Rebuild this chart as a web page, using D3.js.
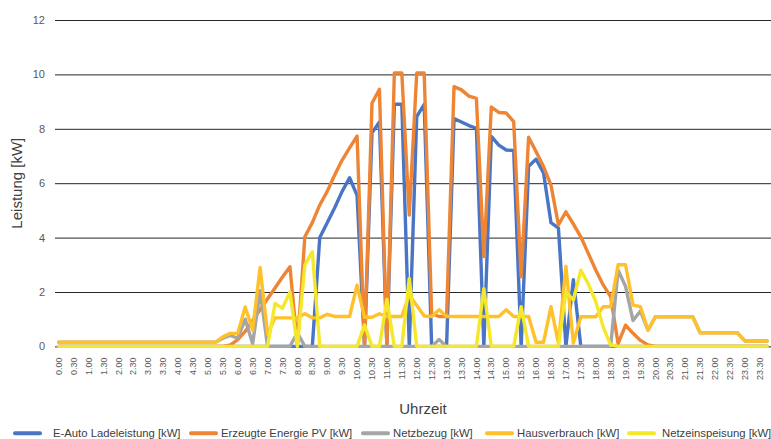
<!DOCTYPE html>
<html><head><meta charset="utf-8">
<script src="https://cdn.jsdelivr.net/npm/d3@7"></script>
<style>html,body{margin:0;padding:0;background:#fff;} svg{display:block;font-family:"Liberation Sans",Arial,Helvetica,sans-serif;}</style>
</head><body><svg id="c" width="771" height="439"></svg>
<script>
const categories = ["0.00","0.15","0.30","0.45","1.00","1.15","1.30","1.45","2.00","2.15","2.30","2.45","3.00","3.15","3.30","3.45","4.00","4.15","4.30","4.45","5.00","5.15","5.30","5.45","6.00","6.15","6.30","6.45","7.00","7.15","7.30","7.45","8.00","8.15","8.30","8.45","9.00","9.15","9.30","9.45","10.00","10.15","10.30","10.45","11.00","11.15","11.30","11.45","12.00","12.15","12.30","12.45","13.00","13.15","13.30","13.45","14.00","14.15","14.30","14.45","15.00","15.15","15.30","15.45","16.00","16.15","16.30","16.45","17.00","17.15","17.30","17.45","18.00","18.15","18.30","18.45","19.00","19.15","19.30","19.45","20.00","20.15","20.30","20.45","21.00","21.15","21.30","21.45","22.00","22.15","22.30","22.45","23.00","23.15","23.30","23.45"];
const tickLabels = ["0.00","0.30","1.00","1.30","2.00","2.30","3.00","3.30","4.00","4.30","5.00","5.30","6.00","6.30","7.00","7.30","8.00","8.30","9.00","9.30","10.00","10.30","11.00","11.30","12.00","12.30","13.00","13.30","14.00","14.30","15.00","15.30","16.00","16.30","17.00","17.30","18.00","18.30","19.00","19.30","20.00","20.30","21.00","21.30","22.00","22.30","23.00","23.30"];
const yTicks = [0,2,4,6,8,10,12];
const seriesNames = ["E-Auto Ladeleistung [kW]","Erzeugte Energie PV [kW]","Netzbezug [kW]","Hausverbrauch [kW]","Netzeinspeisung [kW]"];

// 96 quarter-hour values each
const eAuto = [
0,0,0,0,0,0,0,0,0,0,0,0,0,0,0,0,0,0,0,0,
0,0,0,0,0,0,0,0,0,0,0,0,0,0,0,4.0,4.55,5.1,5.7,6.2,
5.55,0,7.85,8.25,0,8.9,8.9,0,8.45,8.9,0,0,0,8.38,8.25,8.12,8.02,0,7.72,7.4,
7.22,7.2,0,6.62,6.88,6.38,4.55,4.35,0,2.45,0,0,0,0,0,0,0,0,0,0,
0,0,0,0,0,0,0,0,0,0,0,0,0,0,0,0];
const pv = [
0,0,0,0,0,0,0,0,0,0,0,0,0,0,0,0,0,0,0,0,
0,0,0,0.05,0.25,0.55,0.95,1.35,1.75,2.15,2.55,2.93,0,4.03,4.55,5.2,5.7,6.3,6.85,7.3,
7.73,0,8.94,9.45,0,10.05,10.05,4.83,10.05,10.05,1.2,1.1,1.1,9.55,9.43,9.2,9.12,3.3,8.8,8.6,
8.58,8.26,2.56,7.69,7.16,6.61,5.93,4.47,4.95,4.5,4.03,3.42,2.81,2.26,1.83,0.1,0.78,0.48,0.22,0.05,
0,0,0,0,0,0,0,0,0,0,0,0,0,0,0,0];
const netzbezug = [
0.15,0.15,0.15,0.15,0.15,0.15,0.15,0.15,0.15,0.15,0.15,0.15,0.15,0.15,0.15,0.15,0.15,0.15,0.15,0.15,
0.15,0.15,0.3,0.4,0.3,1.0,0.1,2.05,0,0,0,0,0.5,0,0,0,0,0,0,0,
0,0,0,0,0,0,0,0,0,0,0,0.25,0,0,0,0,0,0,0,0,
0,0,0,0,0,0,0,0,0,0,0,0,0,0,0,2.8,2.2,0.95,1.3,0.6,
1.09,1.09,1.09,1.09,1.09,1.09,0.5,0.5,0.5,0.5,0.5,0.5,0.2,0.2,0.2,0.2];
const hausverbrauch = [
0.15,0.15,0.15,0.15,0.15,0.15,0.15,0.15,0.15,0.15,0.15,0.15,0.15,0.15,0.15,0.15,0.15,0.15,0.15,0.15,
0.15,0.15,0.35,0.48,0.48,1.45,0.6,2.9,0.45,1.05,1.05,1.05,1.05,1.2,1.05,1.05,1.18,1.1,1.1,1.1,
2.25,1.07,1.07,1.2,1.1,1.1,1.1,1.9,1.5,1.12,1.1,1.35,1.1,1.1,1.1,1.1,1.1,1.1,1.1,1.1,
1.35,1.1,1.1,1.1,0.15,0.15,1.46,0.12,2.95,0.12,1.09,1.09,1.09,1.46,1.46,3.0,3.0,1.52,1.46,0.6,
1.09,1.09,1.09,1.09,1.09,1.09,0.5,0.5,0.5,0.5,0.5,0.5,0.2,0.2,0.2,0.2];
const netzeinspeisung = [
0,0,0,0,0,0,0,0,0,0,0,0,0,0,0,0,0,0,0,0,
0,0,0,0,0,0,0,0,0,1.58,1.4,2.0,0,3.0,3.48,0,0,0,0,0,
0,0.79,0,0,1.73,0,0,2.5,0,0,0,0,0,0,0,0,0,2.12,0,0,
0,0,1.46,0,0,0,0,0,2.0,1.7,2.8,2.3,1.65,0.72,0.05,0,0,0,0,0,
0,0,0,0,0,0,0,0,0,0,0,0,0,0,0,0];

const seriesValues = [eAuto, pv, netzbezug, hausverbrauch, netzeinspeisung];
const colors = ["#4A75C5","#EE8535","#A5A5A5","#FFC12A","#F5E82A"];

const svg = d3.select("#c");
const plotL = 55, plotR = 771, plotT = 20, plotB = 346.4;
const x = d3.scaleBand().domain(categories).range([plotL, plotR]).padding(0);
const cx = d => x(d) + x.bandwidth()/2;
const y = d3.scaleLinear().domain([0,12]).range([plotB, plotT]);

// gridlines + y labels
const yAxis = d3.axisLeft(y).tickValues(yTicks).tickSize(-(plotR-plotL)).tickPadding(10).tickFormat(d3.format("d"));
const gy = svg.append("g").attr("transform",`translate(${plotL},0)`).call(yAxis);
gy.select(".domain").remove();
gy.selectAll(".tick line").attr("stroke","#262626").attr("stroke-width",1);
gy.selectAll(".tick text").attr("fill","#595959").style("font-size","11px");

// x axis labels
const xAxis = d3.axisBottom(x).tickValues(tickLabels).tickSize(0).tickPadding(0);
const gx = svg.append("g").attr("transform",`translate(0,${plotB})`).call(xAxis);
gx.select(".domain").remove();
gx.selectAll(".tick text")
  .attr("transform","rotate(-90)")
  .attr("x",-11).attr("y",0).attr("dy","0.35em")
  .style("text-anchor","end").style("font-size","9px").attr("fill","#595959");

// lines
const line = d3.line().x((d,i)=>cx(categories[i])).y(d=>y(d)).curve(d3.curveLinear);
seriesValues.forEach((vals,k)=>{
  svg.append("path").datum(vals).attr("d",line)
    .attr("fill","none").attr("stroke",colors[k]).attr("stroke-width",3.4)
    .attr("stroke-linejoin","round").attr("stroke-linecap","round");
});

// axis titles
svg.append("text").attr("transform",`translate(22,${(plotT+plotB)/2}) rotate(-90)`)
  .attr("text-anchor","middle").attr("fill","#404040").style("font-size","15px").text("Leistung [kW]");
svg.append("text").attr("x",423).attr("y",414).attr("text-anchor","middle")
  .attr("fill","#404040").style("font-size","15px").text("Uhrzeit");

// legend
const legLineX = [15,191,363,487,629];
const legTextX = [53,221,393,517,662];
const lg = svg.append("g");
seriesNames.forEach((n,k)=>{
  lg.append("line").attr("x1",legLineX[k]).attr("x2",legLineX[k]+25).attr("y1",433.3).attr("y2",433.3)
    .attr("stroke",colors[k]).attr("stroke-width",4).attr("stroke-linecap","round");
  lg.append("text").attr("x",legTextX[k]).attr("y",437).attr("fill","#404040").style("font-size","11.3px").text(n);
});
</script></body></html>
